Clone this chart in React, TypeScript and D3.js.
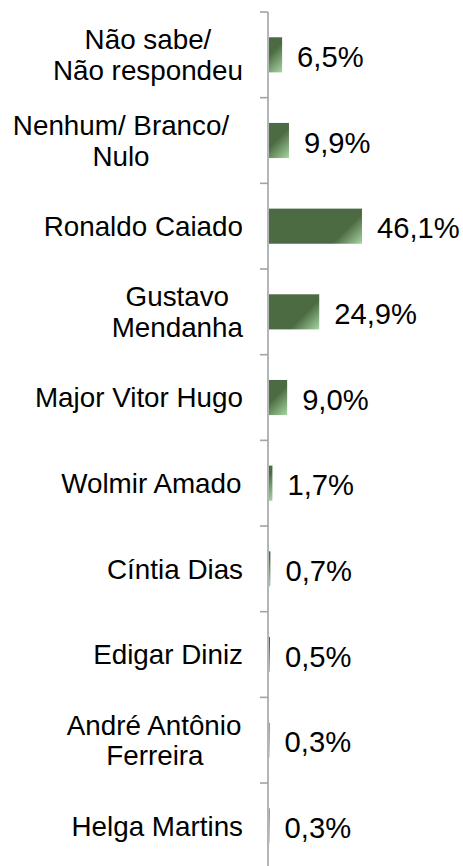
import React from 'react';
import * as d3 from 'd3';

const categories: string[][] = [
  ['Não sabe/', 'Não respondeu'],
  ['Nenhum/ Branco/ ', 'Nulo'],
  ['Ronaldo Caiado'],
  ['Gustavo', 'Mendanha'],
  ['Major Vitor Hugo'],
  ['Wolmir Amado'],
  ['Cíntia Dias'],
  ['Edigar Diniz'],
  ['André Antônio', 'Ferreira'],
  ['Helga Martins'],
];
const values: number[] = [6.5, 9.9, 46.1, 24.9, 9.0, 1.7, 0.7, 0.5, 0.3, 0.3];
const valueLabels: string[] = values.map((v) => v.toFixed(1).replace('.', ',') + '%');

const W = 463;
const H = 866;
const FONT = '"Liberation Sans", Arial, sans-serif';
const FS = 27.8;
const VFS = 29.2;
const LINE_H = 30.7;
const LABEL_RIGHT = 243;
const WRAP_BOX = 244;
const AXIS_X = 268;

let ctx: CanvasRenderingContext2D | null = null;
function measure(t: string): number {
  if (!ctx) {
    const c = document.createElement('canvas');
    ctx = c.getContext('2d');
  }
  if (!ctx) return t.length * FS * 0.55;
  ctx.font = `${FS}px ${FONT}`;
  return ctx.measureText(t).width;
}

export default function App() {
  const keys = categories.map((c) => c.join('|'));
  const y = d3.scaleBand<string>().domain(keys).range([12, 868.7]).paddingInner(0.59).paddingOuter(0.295);
  const x = d3.scaleLinear().domain([0, 46.1]).range([269, 362]);
  const step = y.step();
  const ticks = d3.range(0, categories.length + 1).map((i) => 12 + i * step);
  const bh = y.bandwidth();

  return (
    <svg width={W} height={H} style={{ position: 'absolute', left: 0, top: 0, display: 'block' }} fontFamily={FONT}>
      <rect x={0} y={0} width={W} height={H} fill="#ffffff" />
      <defs>
        {values.map((v, i) => {
          const x1 = x(v);
          const bottom = (y(keys[i]) as number) + bh;
          const d = 15;
          return (
            <linearGradient key={i} id={`g${i}`} gradientUnits="userSpaceOnUse" x1={x1 - d} y1={bottom - d} x2={x1} y2={bottom}>
              <stop offset="0" stopColor="#4c6b43" />
              <stop offset="1" stopColor="#a8d6a2" />
            </linearGradient>
          );
        })}
      </defs>
      {values.map((v, i) => (
        <rect key={i} x={x(0)} y={y(keys[i])} width={Math.max(0, x(v) - x(0))} height={bh} fill={`url(#g${i})`} />
      ))}
      <line x1={AXIS_X} x2={AXIS_X} y1={12} y2={H} stroke="#a0a4a8" strokeWidth={1.6} />
      {ticks.map((t, i) => (
        <line key={i} x1={AXIS_X - 8} x2={AXIS_X} y1={t} y2={t} stroke="#a0a4a8" strokeWidth={1.6} />
      ))}
      {categories.map((lines, i) => {
        const cy = (y(keys[i]) as number) + bh / 2;
        const widths = lines.map((l) => measure(l.trim()));
        const wrapped = lines.some((l) => l.endsWith(' '));
        const maxW = wrapped ? WRAP_BOX : Math.max(...widths);
        const cx = LABEL_RIGHT - maxW / 2;
        const n = lines.length;
        return (
          <g key={i}>
            {lines.map((ln, j) => (
              <text
                key={j}
                x={cx - widths[j] / 2}
                y={cy + (j - (n - 1) / 2) * LINE_H + 9.9}
                fontSize={FS}
                fill="#000"
              >
                {ln.trim()}
              </text>
            ))}
          </g>
        );
      })}
      {values.map((v, i) => (
        <text key={i} x={x(v) + 15} y={(y(keys[i]) as number) + bh / 2 + 12} fontSize={VFS} fill="#000">
          {valueLabels[i]}
        </text>
      ))}
    </svg>
  );
}
